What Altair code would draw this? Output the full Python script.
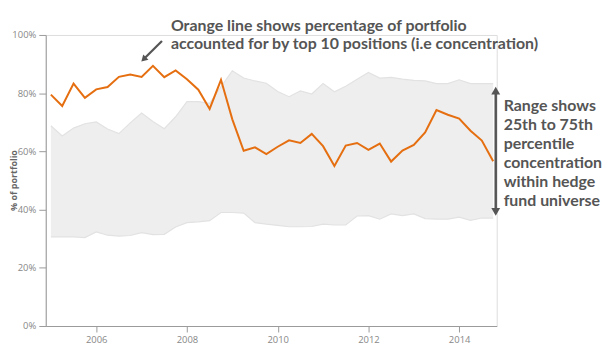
import altair as alt
import pandas as pd

# Quarterly observations, 2005 Q1 .. 2014 Q4
years = [2005.00, 2005.25, 2005.50, 2005.75, 2006.00, 2006.25, 2006.50, 2006.75,
         2007.00, 2007.25, 2007.50, 2007.75, 2008.00, 2008.25, 2008.50, 2008.75,
         2009.00, 2009.25, 2009.50, 2009.75, 2010.00, 2010.25, 2010.50, 2010.75,
         2011.00, 2011.25, 2011.50, 2011.75, 2012.00, 2012.25, 2012.50, 2012.75,
         2013.00, 2013.25, 2013.50, 2013.75, 2014.00, 2014.25, 2014.50, 2014.75]

# Top-10 concentration of the portfolio (%)
portfolio = [79.5, 75.6, 83.3, 78.4, 81.3, 82.1, 85.6, 86.4, 85.6, 89.4,
             85.5, 87.8, 84.8, 81.2, 74.6, 84.6, 71.0, 60.2, 61.4, 59.1,
             61.6, 63.8, 62.9, 66.0, 61.8, 55.0, 62.0, 62.9, 60.5, 62.7,
             56.5, 60.3, 62.2, 66.5, 74.2, 72.6, 71.3, 67.1, 63.7, 56.6]

# Hedge fund universe 75th percentile (%)
p75 = [68.8, 65.3, 68.0, 69.5, 70.1, 67.7, 66.1, 69.8, 73.2, 70.3,
       67.8, 71.9, 77.1, 77.1, 76.5, 82.2, 87.7, 85.2, 84.2, 83.4,
       80.6, 78.8, 80.8, 79.7, 83.3, 80.5, 82.4, 84.8, 87.1, 85.2,
       85.4, 84.8, 84.4, 84.2, 83.3, 83.3, 84.6, 83.3, 83.3, 83.3]

# Hedge fund universe 25th percentile (%)
p25 = [30.6, 30.6, 30.6, 30.4, 32.3, 31.2, 30.9, 31.1, 32.1, 31.4,
       31.5, 34.0, 35.5, 35.8, 36.2, 39.0, 39.0, 38.8, 35.5, 35.0,
       34.6, 34.1, 34.1, 34.2, 35.0, 34.7, 34.7, 37.8, 37.9, 36.7,
       38.5, 37.9, 38.5, 36.9, 36.7, 36.7, 37.4, 36.3, 37.1, 37.1]

x_ticks = [2006, 2008, 2010, 2012, 2014]
y_ticks = [0, 20, 40, 60, 80, 100]

note_top = ["Orange line shows percentage of portfolio",
            "accounted for by top 10 positions (i.e concentration)"]
note_right = ["Range shows", "25th to 75th", "percentile",
              "concentration", "within hedge", "fund universe"]

df = pd.DataFrame({"year": years, "portfolio": portfolio, "p75": p75, "p25": p25})

W, H = 454, 293
TXT = "#555555"
FONT = "Lato"
LFONT = "Open Sans"

xs = alt.Scale(domain=[2004.887, 2014.828], nice=False, zero=False)
ys = alt.Scale(domain=[0, 100], nice=False)

x_axis = alt.Axis(values=x_ticks, format="d", title=None, grid=False,
                  domainColor="#9a9a9a", tickColor="#9a9a9a", tickSize=6,
                  labelColor="#888888", labelFont=LFONT, labelFontSize=9.5,
                  labelPadding=3)
y_axis = alt.Axis(values=y_ticks, labelExpr="datum.value + '%'", title="% of portfolio",
                  grid=False, domainColor="#9a9a9a", tickColor="#9a9a9a", tickSize=7,
                  labelColor="#888888", labelFont=LFONT, labelFontSize=9.5,
                  labelPadding=3, titleFont=LFONT, titleFontSize=9,
                  titleFontWeight="bold", titleColor="#666666",
                  titleX=-27, titleY=146)

base = alt.Chart(df)

band = base.mark_area(color="#eeeeee", opacity=1).encode(
    x=alt.X("year:Q", scale=xs, axis=x_axis),
    y=alt.Y("p75:Q", scale=ys, axis=y_axis),
    y2="p25:Q",
)
edge_top = base.mark_line(color="#e2e2e2", strokeWidth=1.2).encode(
    x=alt.X("year:Q", scale=xs), y=alt.Y("p75:Q", scale=ys))
edge_bot = base.mark_line(color="#e2e2e2", strokeWidth=1.2).encode(
    x=alt.X("year:Q", scale=xs), y=alt.Y("p25:Q", scale=ys))
line = base.mark_line(color="#e56f10", strokeWidth=2).encode(
    x=alt.X("year:Q", scale=xs), y=alt.Y("portfolio:Q", scale=ys))

one = alt.Data(values=[{}])

top_text = alt.Chart(one).mark_text(
    text=note_top, font=FONT, fontWeight="bold", fontSize=16, color=TXT,
    align="left", baseline="alphabetic", lineHeight=18.5
).encode(x=alt.value(126), y=alt.value(-4))

right_text = alt.Chart(one).mark_text(
    text=note_right, font=FONT, fontWeight="bold", fontSize=16, color=TXT,
    align="left", baseline="alphabetic", lineHeight=19
).encode(x=alt.value(461), y=alt.value(77))

diag = alt.Chart(one).mark_rule(color=TXT, strokeWidth=2.2).encode(
    x=alt.value(117), y=alt.value(6), x2=alt.value(100), y2=alt.value(23))
diag_head = alt.Chart(one).mark_point(
    shape="triangle-up", angle=225, filled=True, color=TXT, size=55, opacity=1
).encode(x=alt.value(98.5), y=alt.value(24.5))

vshaft = alt.Chart(one).mark_rule(color=TXT, strokeWidth=2.5).encode(
    x=alt.value(453), y=alt.value(57), x2=alt.value(453), y2=alt.value(177))
vhead_top = alt.Chart(one).mark_point(
    shape="triangle-up", filled=True, color=TXT, size=80, opacity=1
).encode(x=alt.value(453), y=alt.value(56))
vhead_bot = alt.Chart(one).mark_point(
    shape="triangle-down", filled=True, color=TXT, size=80, opacity=1
).encode(x=alt.value(453), y=alt.value(178))

chart = alt.layer(
    band, edge_top, edge_bot, line,
    top_text, right_text, diag, diag_head, vshaft, vhead_top, vhead_bot
).properties(
    width=W, height=H,
    padding={"left": 38, "top": 26, "right": 108, "bottom": 24},
    autosize=alt.AutoSizeParams(type="none"),
).configure_view(stroke=None).configure(background="white")

chart.save("out.html", embed_options={"renderer": "svg", "actions": False})
